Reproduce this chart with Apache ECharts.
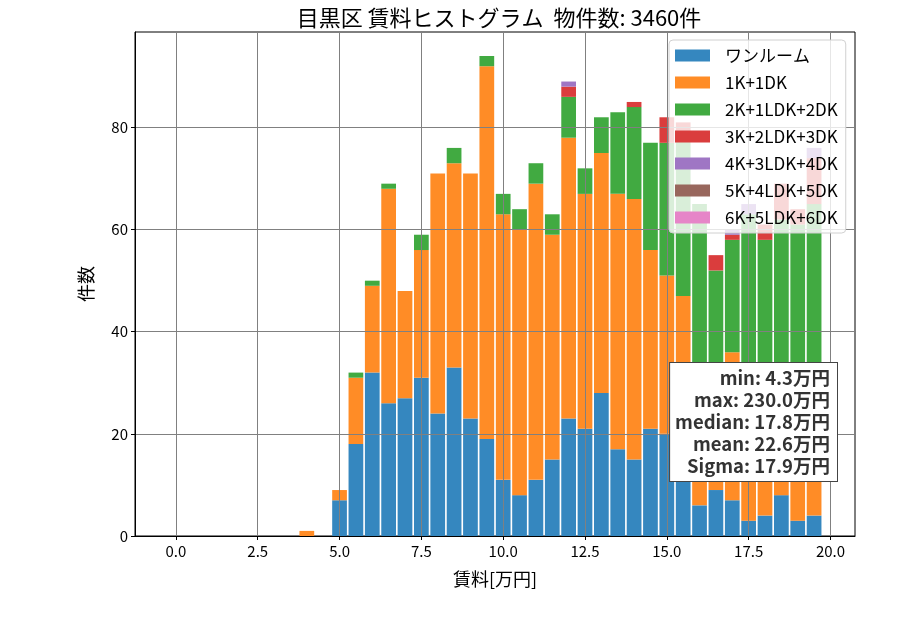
<!DOCTYPE html>
<html>
<head>
<meta charset="utf-8">
<script src="https://cdn.jsdelivr.net/npm/echarts@6/dist/echarts.min.js"></script>
<style>
  html, body { margin: 0; padding: 0; background: #fff; }
  #chart { width: 900px; height: 630px; }
</style>
</head>
<body>
<div id="chart"></div>
<script>
// bin centres [万円]
const binCenters = [4.0, 5.0, 5.5, 6.0, 6.5, 7.0, 7.5, 8.0, 8.5, 9.0, 9.5, 10.0, 10.5, 11.0, 11.5,
  12.0, 12.5, 13.0, 13.5, 14.0, 14.5, 15.0, 15.5, 16.0, 16.5, 17.0, 17.5, 18.0, 18.5, 19.0, 19.5];

const layoutNames = ['ワンルーム', '1K+1DK', '2K+1LDK+2DK', '3K+2LDK+3DK', '4K+3LDK+4DK', '5K+4LDK+5DK', '6K+5LDK+6DK'];

const oneRoom = [0, 7, 18, 32, 26, 27, 31, 24, 33, 23, 19, 11, 8, 11, 15, 23, 21, 28, 17, 15, 21, 20, 15, 6, 9, 7, 3, 4, 8, 3, 4];
const k1dk1   = [1, 2, 13, 17, 42, 21, 25, 47, 40, 48, 73, 52, 52, 58, 44, 55, 46, 47, 50, 51, 35, 31, 32, 22, 21, 29, 22, 23, 22, 22, 24];
const k2ldk2  = [0, 0, 1, 1, 1, 0, 3, 0, 3, 0, 2, 4, 4, 4, 4, 8, 5, 7, 16, 18, 21, 26, 32, 37, 22, 22, 38, 31, 32, 36, 37];
const k3ldk3  = [0, 0, 0, 0, 0, 0, 0, 0, 0, 0, 0, 0, 0, 0, 0, 2, 0, 0, 0, 1, 0, 5, 2, 0, 3, 1, 0, 3, 7, 3, 9];
const k4ldk4  = [0, 0, 0, 0, 0, 0, 0, 0, 0, 0, 0, 0, 0, 0, 0, 1, 0, 0, 0, 0, 0, 0, 0, 0, 0, 1, 2, 0, 0, 0, 2];
const k5ldk5  = [0, 0, 0, 0, 0, 0, 0, 0, 0, 0, 0, 0, 0, 0, 0, 0, 0, 0, 0, 0, 0, 0, 0, 0, 0, 0, 0, 0, 0, 0, 0];
const k6ldk6  = [0, 0, 0, 0, 0, 0, 0, 0, 0, 0, 0, 0, 0, 0, 0, 0, 0, 0, 0, 0, 0, 0, 0, 0, 0, 0, 0, 0, 0, 0, 0];

const xTicks = [0, 2.5, 5, 7.5, 10, 12.5, 15, 17.5, 20];
const yTicks = [0, 20, 40, 60, 80];

const statLabels = ['min', 'max', 'median', 'mean', 'Sigma'];
const statValues = ['4.3', '230.0', '17.8', '22.6', '17.9'];

const colors = ['#3587bf', '#ff8c26', '#41aa41', '#da3d3d', '#9f76c4', '#98675d', '#e685c8'];

const FONT = '"Noto Sans CJK JP", "Noto Sans", sans-serif';
const seriesValues = [oneRoom, k1dk1, k2ldk2, k3ldk3, k4ldk4, k5ldk5, k6ldk6];

const chart = echarts.init(document.getElementById('chart'), null, { renderer: 'canvas' });

// x range of the plot, one category slot per 0.5 bin so bars line up with the value axis
const xMin = -1.25, xMax = 20.75, binW = 0.5;
const slots = [];
for (let c = xMin + binW / 2; c < xMax; c += binW) slots.push(c.toFixed(2));

const series = layoutNames.map((name, k) => {
  const vals = slots.map(() => 0);
  binCenters.forEach((x, i) => {
    vals[slots.indexOf(x.toFixed(2))] = seriesValues[k][i];
  });
  return {
    name: name,
    type: 'bar',
    stack: 'total',
    xAxisIndex: 0,
    barCategoryGap: '10%',
    itemStyle: { color: colors[k] },
    emphasis: { disabled: true },
    data: vals
  };
});

const option = {
  animation: false,
  textStyle: { fontFamily: FONT },
  title: {
    text: '目黒区 賃料ヒストグラム  物件数: 3460件',
    left: 494,
    textAlign: 'center',
    top: 2,
    textStyle: { fontFamily: FONT, fontSize: 22, fontWeight: 'normal', color: '#000' }
  },
  grid: {
    left: 135, right: 45, top: 32, bottom: 94,
    show: true, borderColor: '#000', borderWidth: 1
  },
  legend: {
    orient: 'vertical',
    left: 669, top: 40,
    z: 10,
    icon: 'rect',
    itemWidth: 35, itemHeight: 12,
    itemGap: 10,
    padding: [7, 8, 7, 6],
    backgroundColor: 'rgba(255,255,255,0.8)',
    borderColor: '#d0d0d0', borderWidth: 1, borderRadius: 4,
    textStyle: { fontFamily: FONT, fontSize: 17, color: '#000', lineHeight: 17, padding: [0, 0, 0, 10] },
    data: layoutNames
  },
  xAxis: [{
    type: 'category',
    position: 'top',
    data: slots,
    show: false
  }, {
    type: 'value',
    position: 'bottom',
    min: xMin, max: xMax,
    z: 3,
    name: '賃料[万円]',
    nameLocation: 'middle',
    nameGap: 34,
    nameTextStyle: { fontFamily: FONT, fontSize: 18, color: '#000' },
    axisLine: { show: true, onZero: false, lineStyle: { color: '#000', width: 1 } },
    axisTick: { show: true, length: 4, lineStyle: { color: '#000' }, customValues: xTicks },
    axisLabel: {
      customValues: xTicks, margin: 8, fontFamily: FONT, fontSize: 15, color: '#000',
      formatter: v => v.toFixed(1)
    },
    splitLine: { show: true, lineStyle: { color: '#808080', width: 1 } }
  }],
  yAxis: {
    type: 'value',
    min: 0, max: 98.7,
    z: 3,
    name: '件数',
    nameLocation: 'middle',
    nameGap: 40,
    nameRotate: 90,
    nameTextStyle: { fontFamily: FONT, fontSize: 18, color: '#000' },
    axisLine: { show: true, onZero: false, lineStyle: { color: '#000', width: 1 } },
    axisTick: { show: true, length: 4, lineStyle: { color: '#000' }, customValues: yTicks },
    axisLabel: { customValues: yTicks, margin: 7, fontFamily: FONT, fontSize: 15, color: '#000' },
    splitLine: { show: true, lineStyle: { color: '#808080', width: 1 } }
  },
  graphic: [{
    type: 'text',
    z: 20,
    x: 837, y: 363,
    style: {
      text: statLabels.map((s, i) => s + ': ' + statValues[i] + '万円').join('\n'),
      font: 'bold 18.5px ' + FONT,
      fill: '#333',
      align: 'right',
      verticalAlign: 'top',
      lineHeight: 22,
      backgroundColor: '#fff',
      borderColor: '#444',
      borderWidth: 1,
      padding: [4, 7, 4, 5]
    }
  }],
  series: series
};

chart.setOption(option);
</script>
</body>
</html>
